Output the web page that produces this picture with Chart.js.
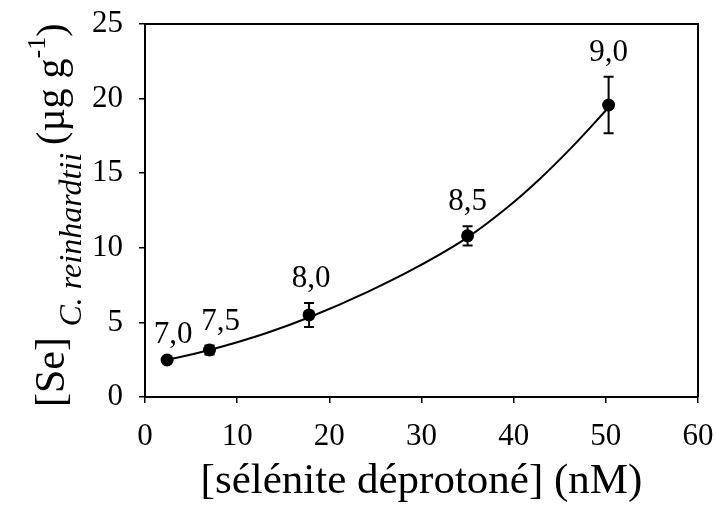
<!DOCTYPE html>
<html>
<head>
<meta charset="utf-8">
<script src="https://cdn.jsdelivr.net/npm/chart.js@4.4.1/dist/chart.umd.min.js"></script>
<style>
    body { margin: 0; background: #fff; }
    #chart-se { display: block; }
</style>
</head>
<body>
<canvas id="chart-se" width="717" height="508"></canvas>
<script>
// concentration de sélénite déprotoné (nM) et Se accumulé (µg/g)
var concX = [2.4, 7.0, 17.8, 35.0, 50.3];
var seY = [2.48, 3.15, 5.5, 10.8, 19.57];
var seErr = [0.1, 0.3, 0.8, 0.65, 1.9];
var phLabels = ['7,0', '7,5', '8,0', '8,5', '9,0'];

// courbe d'ajustement
var fitX = [2.4, 7.0, 13.2, 17.9, 24.1, 29.5, 35.0, 39.3, 42.8, 46.4, 50.3];
var fitY = [2.48, 3.15, 4.29, 5.36, 7.03, 8.7, 10.7, 12.7, 14.6, 16.8, 19.4];

// ticks
var xTicks = [0, 10, 20, 30, 40, 50, 60];
var yTicks = [0, 5, 10, 15, 20, 25];

var serif = "'Liberation Serif', 'Times New Roman', serif";

var points = concX.map(function (x, i) { return { x: x, y: seY[i] }; });
var fit = fitX.map(function (x, i) { return { x: x, y: fitY[i] }; });

// cadre haut et droite
var framePlugin = {
    id: 'frame',
    afterDraw: function (chart) {
        var a = chart.chartArea, ctx = chart.ctx;
        ctx.save();
        ctx.strokeStyle = '#000';
        ctx.lineWidth = 2;
        ctx.beginPath();
        ctx.moveTo(a.left, a.top);
        ctx.lineTo(a.right, a.top);
        ctx.lineTo(a.right, a.bottom);
        ctx.stroke();
        ctx.restore();
    }
};

// barres d'erreur + étiquettes pH
var errorPlugin = {
    id: 'errbars',
    afterDatasetsDraw: function (chart) {
        var ctx = chart.ctx;
        var xs = chart.scales.x, ys = chart.scales.y;
        var labelDx = [6, 11, 2, 0, 0];
        ctx.save();
        ctx.strokeStyle = '#000';
        ctx.lineWidth = 2;
        concX.forEach(function (x, i) {
            var px = xs.getPixelForValue(x);
            var top = ys.getPixelForValue(seY[i] + seErr[i]);
            var bot = ys.getPixelForValue(seY[i] - seErr[i]);
            ctx.beginPath();
            ctx.moveTo(px, top);
            ctx.lineTo(px, bot);
            ctx.moveTo(px - 5, top);
            ctx.lineTo(px + 5, top);
            ctx.moveTo(px - 5, bot);
            ctx.lineTo(px + 5, bot);
            ctx.stroke();

            ctx.fillStyle = '#000';
            ctx.font = '31px ' + serif;
            ctx.textAlign = 'center';
            ctx.textBaseline = 'alphabetic';
            ctx.fillText(phLabels[i], px + labelDx[i], top - 16);
        });
        ctx.restore();
    }
};

// titre de l'axe y : [Se] C. reinhardtii (µg g-1), écrit de bas en haut
var yTitlePlugin = {
    id: 'ytitle',
    afterDraw: function (chart) {
        var ctx = chart.ctx;
        // [texte, police, ligne de base x]
        var parts = [
            ['[Se] ', '42px ' + serif, 64],
            ['C. reinhardtii ', 'italic 32px ' + serif, 81],
            ['(µg g', '40px ' + serif, 64],
            ['-1', '26px ' + serif, 45],
            [')', '40px ' + serif, 64]
        ];
        var y = 407;
        ctx.save();
        ctx.fillStyle = '#000';
        ctx.textAlign = 'left';
        ctx.textBaseline = 'alphabetic';
        parts.forEach(function (p) {
            ctx.save();
            ctx.font = p[1];
            ctx.translate(p[2], y);
            ctx.rotate(-Math.PI / 2);
            ctx.fillText(p[0], 0, 0);
            y -= ctx.measureText(p[0]).width;
            ctx.restore();
        });
        ctx.restore();
    }
};

var ctx = document.getElementById('chart-se').getContext('2d');
var chartSe = new Chart(ctx, {
    type: 'scatter',
    data: {
        datasets: [{
            data: fit,
            showLine: true,
            borderColor: '#000',
            borderWidth: 2,
            pointRadius: 0,
            cubicInterpolationMode: 'monotone',
            order: 2
        }, {
            data: points,
            backgroundColor: '#000',
            borderColor: '#000',
            pointRadius: 6.5,
            pointBorderWidth: 0,
            order: 1
        }]
    },
    options: {
        responsive: false,
        animation: false,
        layout: { padding: { top: 24, right: 19, left: 0, bottom: 0 } },
        plugins: {
            legend: { display: false },
            tooltip: { enabled: false }
        },
        scales: {
            x: {
                type: 'linear',
                min: 0,
                max: 60,
                afterFit: function (s) { s.height = 111; s.paddingLeft = 0; s.paddingRight = 0; },
                afterBuildTicks: function (s) { s.ticks = xTicks.map(function (v) { return { value: v }; }); },
                border: { display: true, color: '#000', width: 2 },
                grid: { drawOnChartArea: false, drawTicks: true, tickLength: 6, color: '#000', lineWidth: 1.5 },
                ticks: { color: '#000', padding: 15, maxRotation: 0, font: { family: serif, size: 31 } },
                title: {
                    display: true,
                    text: '[sélénite déprotoné] (nM)',
                    color: '#000',
                    padding: { top: 0, bottom: 0 },
                    font: { family: serif, size: 43 }
                }
            },
            y: {
                type: 'linear',
                min: 0,
                max: 25,
                afterFit: function (s) { s.width = 145; s.paddingTop = 0; s.paddingBottom = 0; },
                afterBuildTicks: function (s) { s.ticks = yTicks.map(function (v) { return { value: v }; }); },
                border: { display: true, color: '#000', width: 2 },
                grid: { drawOnChartArea: false, drawTicks: true, tickLength: 6, color: '#000', lineWidth: 1.5 },
                ticks: { color: '#000', padding: 16, font: { family: serif, size: 31 } }
            }
        }
    },
    plugins: [framePlugin, errorPlugin, yTitlePlugin]
});
</script>
</body>
</html>
